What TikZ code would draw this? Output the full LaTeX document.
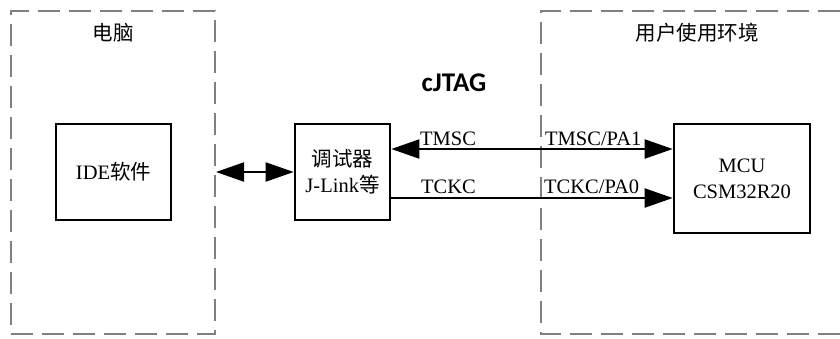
\documentclass[tikz,border=0pt]{standalone}
\usepackage{fontspec}
\setmainfont{Liberation Serif}
\newfontfamily\cjk{Noto Sans CJK SC}
\newfontfamily\calib{Carlito}
\usetikzlibrary{arrows.meta}
\tikzset{
  zone/.style={draw=black!50, line width=2pt, dash pattern=on 22pt off 9pt},
  blk/.style={draw=black, line width=2.6pt, inner sep=0pt, align=center,
    font=\fontsize{20.5}{26}\selectfont},
  wire/.style={line width=2pt, draw=black},
  tip/.style={-{Triangle[length=28pt,width=19pt]}},
  bitip/.style={{Triangle[length=28pt,width=19pt]}-{Triangle[length=28pt,width=19pt]}},
  lbl/.style={inner sep=0pt, font=\fontsize{20.5}{24}\selectfont},
  ttl/.style={inner sep=0pt, font=\fontsize{20.5}{24}\selectfont\cjk},
}
\begin{document}
\begin{tikzpicture}[x=1pt,y=-1pt]
\useasboundingbox (0,0) rectangle (840,338);
% containers
\node[zone, minimum width=204pt, minimum height=323pt, inner sep=0pt] (pc) at (113,172.5) {};
\coordinate (envtl) at (541,11);
\coordinate (envbl) at (541,334);
\coordinate (envtr) at (840,11);
\coordinate (envbr) at (840,334);
\draw[zone] (envtr) -- (envtl) -- (envbl) -- (envbr);
% titles
\node[ttl] (pct) at (113,33) {电脑};
\node[ttl] (envt) at (697,33) {用户使用环境};
\node[inner sep=0pt, font=\fontsize{27}{30}\selectfont\calib\bfseries] (cj) at (454,83) {cJTAG};
% blocks
\node[blk, minimum width=115pt, minimum height=96pt] (ide) at (113.5,172) {IDE{\cjk 软件}};
\node[blk, minimum width=95pt, minimum height=96pt] (dbg) at (342.5,172) {{\cjk 调试器}\\J-Link{\cjk 等}};
\node[blk, minimum width=136pt, minimum height=109pt] (mcu) at (742,178.5) {MCU\\CSM32R20};
% connectors
\draw[wire, bitip] (ide.east -| pc.east) -- (dbg.west);
\draw[wire, bitip] ([yshift=23pt]dbg.east) -- ([yshift=23pt]dbg.east -| mcu.west);
\draw[wire, tip] ([yshift=-26pt]dbg.east) -- ([yshift=-26pt]dbg.east -| mcu.west);
% labels
\node[lbl, anchor=base west] (l1) at (420,145) {TMSC};
\node[lbl, anchor=base west] (l2) at (545,145) {TMSC/PA1};
\node[lbl, anchor=base west] (l3) at (421,193) {TCKC};
\node[lbl, anchor=base west] (l4) at (544,193) {TCKC/PA0};
\end{tikzpicture}
\end{document}
